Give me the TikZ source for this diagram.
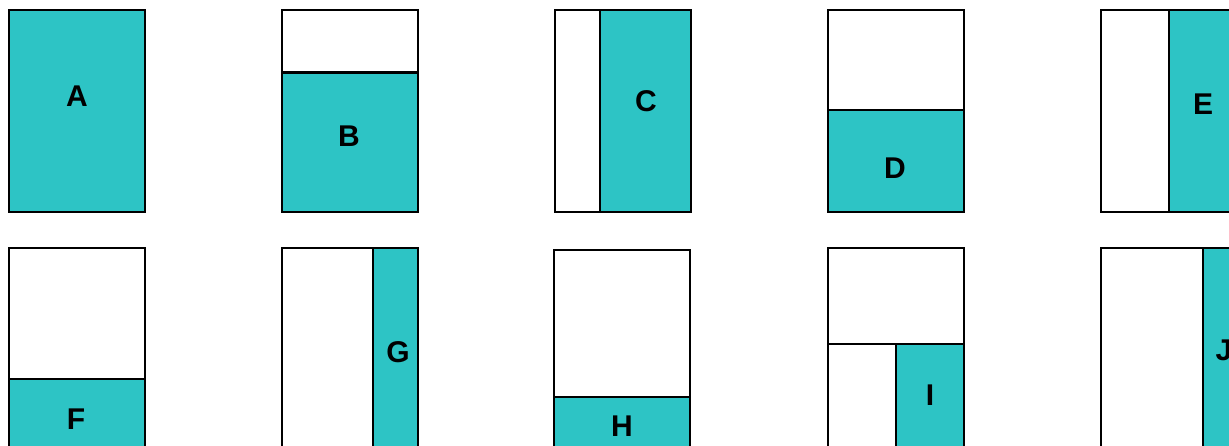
\documentclass[tikz,border=0pt]{standalone}
\usepackage{fontspec}
\setmainfont{Liberation Sans}
\definecolor{teal1}{RGB}{45,196,197}
\begin{document}
\begin{tikzpicture}[x=0.75pt,y=-0.75pt,
  frame/.style={draw=black,line width=2pt},
  part/.style={fill=teal1},
  lbl/.style={font=\fontsize{22.5}{26}\selectfont\bfseries,inner sep=0pt,text=black}]
\useasboundingbox (0,0) rectangle (1229,446);
\clip (0,0) rectangle (1229,446);
% Row 1
% A
\fill[part] (9,10) rectangle (145,212);
\draw[frame] (9,10) rectangle (145,212);
\node[lbl] (a) at (77,96) {A};
% B
\fill[part] (282,72.5) rectangle (418,212);
\draw[frame] (282,10) rectangle (418,212);
\draw[frame] (282,72.5) -- (418,72.5);
\node[lbl] (b) at (349,136) {B};
% C
\fill[part] (600,10) rectangle (691,212);
\draw[frame] (555,10) rectangle (691,212);
\draw[frame] (600,10) -- (600,212);
\node[lbl] (c) at (646,101) {C};
% D
\fill[part] (828,110) rectangle (964,212);
\draw[frame] (828,10) rectangle (964,212);
\draw[frame] (828,110) -- (964,110);
\node[lbl] (d) at (895,168) {D};
% E
\fill[part] (1169,10) rectangle (1237,212);
\draw[frame] (1101,10) rectangle (1237,212);
\draw[frame] (1169,10) -- (1169,212);
\node[lbl] (e) at (1203,104) {E};
% Row 2
% F
\fill[part] (9,379) rectangle (145,450);
\draw[frame] (9,248) rectangle (145,450);
\draw[frame] (9,379) -- (145,379);
\node[lbl] (f) at (76,419) {F};
% G
\fill[part] (373,248) rectangle (418,450);
\draw[frame] (282,248) rectangle (418,450);
\draw[frame] (373,248) -- (373,450);
\node[lbl] (g) at (398,352) {G};
% H
\fill[part] (554,397) rectangle (690,452);
\draw[frame] (554,250) rectangle (690,452);
\draw[frame] (554,397) -- (690,397);
\node[lbl] (h) at (622,426) {H};
% I
\fill[part] (896,344) rectangle (964,450);
\draw[frame] (828,248) rectangle (964,450);
\draw[frame] (828,344) -- (964,344);
\draw[frame] (896,344) -- (896,450);
\node[lbl] (i) at (930,395) {I};
% J
\fill[part] (1203,248) rectangle (1270,450);
\draw[frame] (1101,248) rectangle (1270,450);
\draw[frame] (1203,248) -- (1203,450);
\node[lbl] (j) at (1224,350) {J};
\end{tikzpicture}
\end{document}
